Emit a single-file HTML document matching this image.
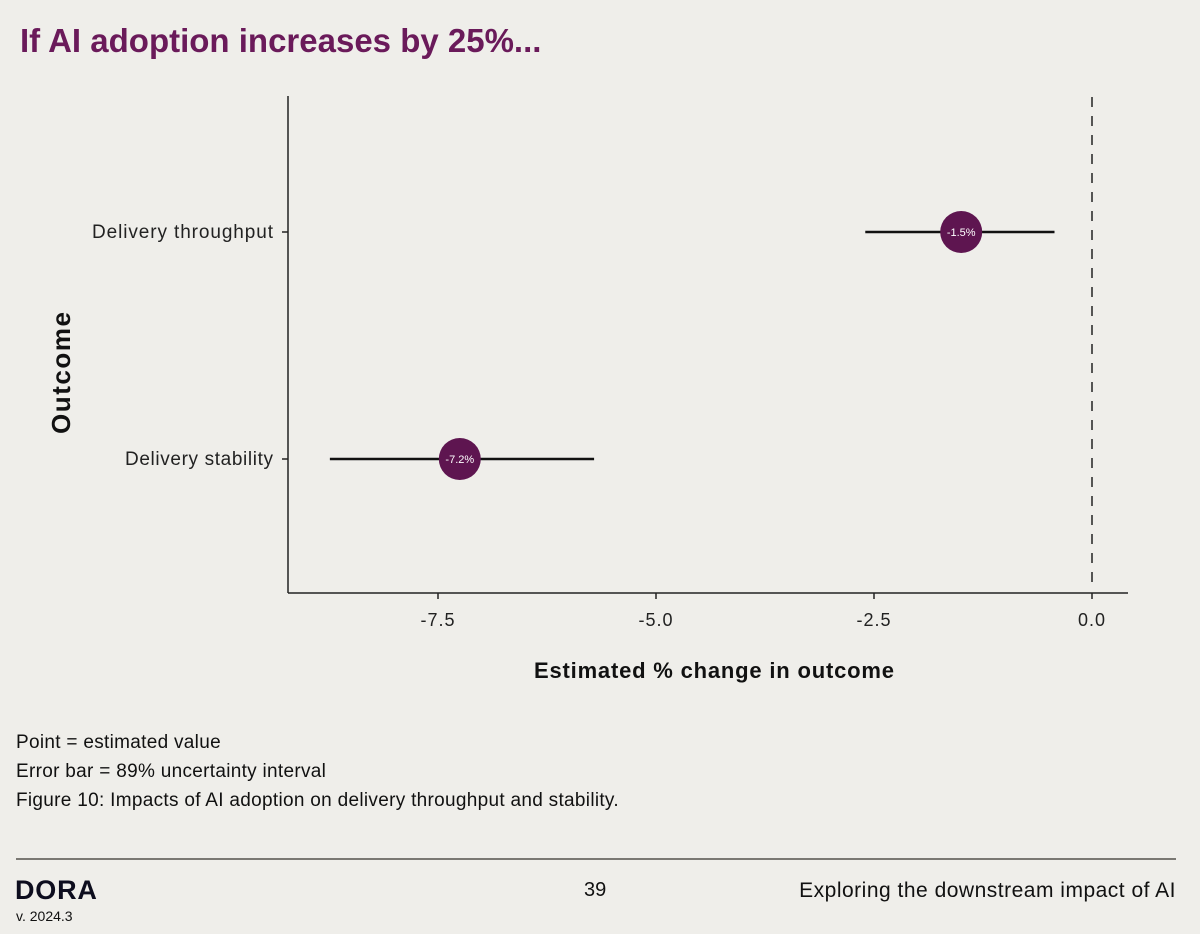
<!DOCTYPE html>
<html><head><meta charset="utf-8"><style>
body{margin:0;width:1200px;height:934px;background:#efeeea;font-family:"Liberation Sans",sans-serif;overflow:hidden;position:relative}
.t{position:absolute;white-space:nowrap}
</style></head><body>
<div class="t" style="left:20px;top:22px;font-size:33px;font-weight:bold;color:#6a1a5a;letter-spacing:0px">If AI adoption increases by 25%...</div>
<svg id="chart" width="1200" height="700" style="position:absolute;left:0;top:0" font-family="Liberation Sans, sans-serif"></svg>
<div class="t" style="left:16px;top:732px;font-size:19px;letter-spacing:0.3px;color:#111">Point = estimated value</div>
<div class="t" style="left:16px;top:761px;font-size:19px;letter-spacing:0.3px;color:#111">Error bar = 89% uncertainty interval</div>
<div class="t" style="left:16px;top:790px;font-size:19px;letter-spacing:0.3px;color:#111">Figure 10: Impacts of AI adoption on delivery throughput and stability.</div>
<div style="position:absolute;left:16px;top:858px;width:1160px;height:2px;background:#7a7873"></div>
<div class="t" style="left:15px;top:875px;font-size:27px;font-weight:900;color:#0d0d1e;letter-spacing:0.8px">DORA</div>
<div class="t" style="left:16px;top:908px;font-size:14px;color:#111">v. 2024.3</div>
<div class="t" style="left:584px;top:879px;font-size:20px;color:#111">39</div>
<div class="t" style="right:24px;top:879px;font-size:21px;letter-spacing:0.5px;color:#111">Exploring the downstream impact of AI</div>
<script>
const categories=["Delivery throughput","Delivery stability"];
const estimates=[-1.5,-7.25];
const lowers=[-2.6,-8.74];
const uppers=[-0.43,-5.71];
const pointLabels=["-1.5%","-7.2%"];
const xTicks=[-7.5,-5.0,-2.5,0.0];
const NS="http://www.w3.org/2000/svg";
const svg=document.getElementById('chart');
const x=v=>1092+v*87.2;
const yPos=[232,459];
const labelLen=[181,148];
const y=i=>yPos[i];
function mk(tag,at,txt){const e=document.createElementNS(NS,tag);for(const k in at)e.setAttribute(k,at[k]);if(txt!==undefined)e.textContent=txt;svg.appendChild(e);return e;}
let e;
e=mk('line',{x1:288,y1:96,x2:288,y2:593,stroke:'#222','stroke-width':1.5});


e=mk('line',{x1:288,y1:593,x2:1128,y2:593,stroke:'#222','stroke-width':1.5});


e=mk('line',{x1:x(0),y1:97,x2:x(0),y2:590,stroke:'#222','stroke-width':1.5,'stroke-dasharray':'10 9'});


xTicks.forEach(t=>{
 e=mk('line',{x1:x(t),y1:593,x2:x(t),y2:599,stroke:'#222','stroke-width':1.5});
 
 
 e=mk('text',{x:x(t),y:626,'text-anchor':'middle','font-size':18,fill:'#222','letter-spacing':'1'},t.toFixed(1));
 
 
});
categories.forEach((c,i)=>{
 e=mk('line',{x1:282,y1:y(i),x2:288,y2:y(i),stroke:'#222','stroke-width':1.5});
 
 
 e=mk('text',{x:273,y:y(i)+6,'text-anchor':'end','font-size':19,fill:'#222',textLength:labelLen[i]},c);
 
 
 e=mk('line',{x1:x(lowers[i]),y1:y(i),x2:x(uppers[i]),y2:y(i),stroke:'#111','stroke-width':2.5});
 
 
 e=mk('circle',{cx:x(estimates[i]),cy:y(i),r:21,fill:'#5e1550'});
 
 
 e=mk('text',{x:x(estimates[i]),y:y(i)+4,'text-anchor':'middle','font-size':11,fill:'#fff'},pointLabels[i]);
 
 
});
e=mk('text',{x:534,y:678,'font-size':22,'font-weight':'bold',fill:'#111',textLength:360},'Estimated % change in outcome');


e=mk('text',{x:0,y:0,'font-size':26,'font-weight':'bold',fill:'#111',textLength:122,transform:'translate(70,434) rotate(-90)'},'Outcome');


</script>
</body></html>
